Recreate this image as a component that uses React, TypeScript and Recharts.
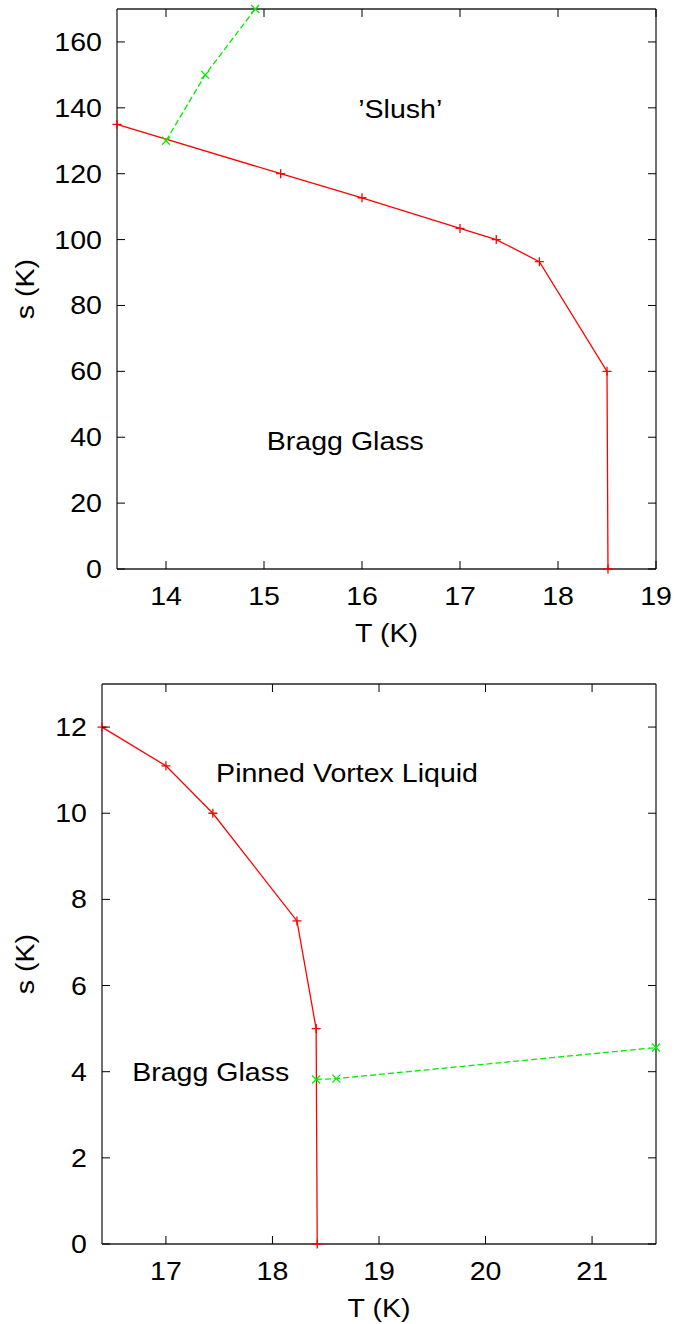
import React from "react";
import { LineChart, Line, XAxis, YAxis, ReferenceDot } from "recharts";

// upper panel: s in 0..170 K
const topRedT = [13.5, 15.17, 16.0, 17.0, 17.37, 17.81, 18.5, 18.51];
const topRedS = [135, 120, 112.7, 103.4, 100, 93.3, 60, 0];
const topGreenT = [14.0, 14.4, 14.91];
const topGreenS = [130, 150, 170];
const topXTicks = [14, 15, 16, 17, 18, 19];
const topYTicks = [0, 20, 40, 60, 80, 100, 120, 140, 160];

// lower panel: s in 0..13 K
const botRedT = [16.4, 17.0, 17.44, 18.23, 18.41, 18.42];
const botRedS = [12, 11.1, 10, 7.5, 5, 0];
const botGreenT = [18.41, 18.6, 21.6];
const botGreenS = [3.82, 3.84, 4.56];
const botXTicks = [17, 18, 19, 20, 21];
const botYTicks = [0, 2, 4, 6, 8, 10, 12];

const topNotes = [
  { T: 16.39, s: 139.5, text: "\u2019Slush\u2019" },
  { T: 15.83, s: 39, text: "Bragg Glass" },
];
const botNotes = [
  { T: 18.7, s: 10.94, text: "Pinned Vortex Liquid" },
  { T: 17.42, s: 4.0, text: "Bragg Glass" },
];

const FONT = "'Liberation Sans', Arial, Helvetica, sans-serif";
const FS = 25.5;
const FRAME = "#222";
const GREEN = "#00ee00";

const zip = (ts: number[], ss: number[]) => ts.map((T, i) => ({ T, s: ss[i] }));

// gnuplot text is a little wider than Arial, so stretch it sideways
const Txt = ({ x, y, anchor = "middle", rotate = 0, children }: any) => (
  <text
    transform={`translate(${x} ${y}) rotate(${rotate}) scale(1.12 1)`}
    textAnchor={anchor}
    fontFamily={FONT}
    fontSize={FS}
    fill="#000"
  >
    {children}
  </text>
);

const Plus = (p: any) => (
  <path key={`p-${p.index}`} d={`M${p.cx - 4.5},${p.cy}h9M${p.cx},${p.cy - 4.5}v9`} stroke="#ff0000" strokeWidth={1.3} fill="none" />
);
const Cross = (p: any) => (
  <path key={`x-${p.index}`} d={`M${p.cx - 4},${p.cy - 4}l8,8M${p.cx - 4},${p.cy + 4}l8,-8`} stroke={GREEN} strokeWidth={1.3} fill="none" />
);

const BottomTick = ({ x, y, payload }: any) => (
  <g>
    <line x1={x} y1={y} x2={x} y2={y - 8} stroke="#000" />
    <Txt x={x} y={y + 36}>{payload.value}</Txt>
  </g>
);
const TopTick = ({ x, y }: any) => <line x1={x} y1={y} x2={x} y2={y + 8} stroke="#000" />;
const LeftTick = ({ x, y, payload }: any) => (
  <g>
    <line x1={x} y1={y} x2={x + 8} y2={y} stroke="#000" />
    <Txt x={x - 15} y={y + 9} anchor="end">{payload.value}</Txt>
  </g>
);
const RightTick = ({ x, y }: any) => <line x1={x} y1={y} x2={x - 8} y2={y} stroke="#000" />;

interface PanelProps {
  height: number;
  marginTop: number;
  yWidth: number;
  xHeight: number;
  xDomain: [number, number];
  yDomain: [number, number];
  xTicks: number[];
  yTicks: number[];
  red: { T: number; s: number }[];
  green: { T: number; s: number }[];
  notes: { T: number; s: number; text: string }[];
}

function Panel({ height, marginTop, yWidth, xHeight, xDomain, yDomain, xTicks, yTicks, red, green, notes }: PanelProps) {
  const common = {
    type: "number" as const,
    tickSize: 0,
    tickMargin: 0,
    tickLine: false,
    interval: 0 as const,
    axisLine: { stroke: FRAME, strokeWidth: 1.3 },
  };
  // mirror axes need a size of at least 1px or recharts skips them
  return (
    <LineChart width={686} height={height} margin={{ top: marginTop - 1, right: 29, bottom: 0, left: 0 }}>
      <XAxis
        {...common}
        xAxisId="bottom"
        dataKey="T"
        domain={xDomain}
        ticks={xTicks}
        height={xHeight}
        tick={BottomTick}
        label={{
          content: ({ viewBox }: any) => (
            <Txt x={viewBox.x + viewBox.width / 2} y={viewBox.y + 73}>T (K)</Txt>
          ),
        }}
      />
      <XAxis {...common} xAxisId="top" orientation="top" dataKey="T" domain={xDomain} ticks={xTicks} height={1} tick={TopTick} />
      <YAxis
        {...common}
        yAxisId="left"
        domain={yDomain}
        ticks={yTicks}
        width={yWidth}
        tick={LeftTick}
        label={{
          content: ({ viewBox }: any) => (
            <Txt x={34} y={viewBox.y + viewBox.height / 2} rotate={-90}>s (K)</Txt>
          ),
        }}
      />
      <YAxis {...common} yAxisId="right" orientation="right" domain={yDomain} ticks={yTicks} width={1} tick={RightTick} />
      <Line
        xAxisId="bottom"
        yAxisId="left"
        data={red}
        dataKey="s"
        type="linear"
        stroke="#ff0000"
        strokeWidth={1.3}
        dot={Plus}
        activeDot={false}
        isAnimationActive={false}
      />
      <Line
        xAxisId="top"
        yAxisId="right"
        data={green}
        dataKey="s"
        type="linear"
        stroke={GREEN}
        strokeWidth={1.3}
        strokeDasharray="6 3"
        dot={Cross}
        activeDot={false}
        isAnimationActive={false}
      />
      {notes.map((n) => (
        <ReferenceDot
          key={n.text + n.T}
          xAxisId="bottom"
          yAxisId="left"
          x={n.T}
          y={n.s}
          r={0}
          fill="none"
          stroke="none"
          label={{
            content: ({ viewBox }: any) => <Txt x={viewBox.x} y={viewBox.y + 9}>{n.text}</Txt>,
          }}
        />
      ))}
    </LineChart>
  );
}

export default function App() {
  return (
    <div style={{ position: "absolute", left: 0, top: 0, width: 686, height: 1324, background: "#fff" }}>
      <Panel
        height={662}
        marginTop={9}
        yWidth={117}
        xHeight={93}
        xDomain={[13.5, 19]}
        yDomain={[0, 170]}
        xTicks={topXTicks}
        yTicks={topYTicks}
        red={zip(topRedT, topRedS)}
        green={zip(topGreenT, topGreenS)}
        notes={topNotes}
      />
      <Panel
        height={662}
        marginTop={22}
        yWidth={102}
        xHeight={80}
        xDomain={[16.4, 21.6]}
        yDomain={[0, 13]}
        xTicks={botXTicks}
        yTicks={botYTicks}
        red={zip(botRedT, botRedS)}
        green={zip(botGreenT, botGreenS)}
        notes={botNotes}
      />
    </div>
  );
}
